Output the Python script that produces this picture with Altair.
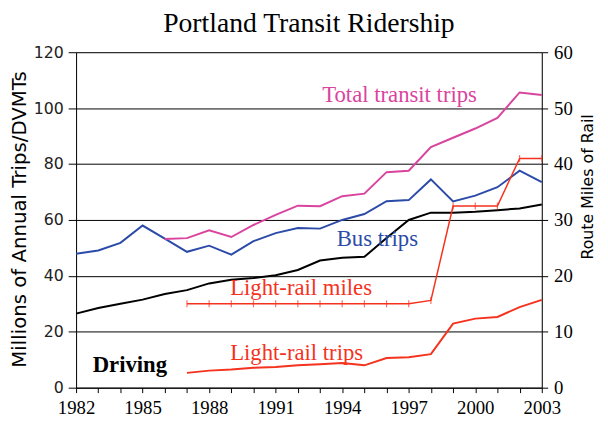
import altair as alt
import pandas as pd

years = list(range(1982, 2004))
bus = [47.9, 49.1, 51.8, 58.0, 53.3, 48.6, 50.8, 47.6, 52.4, 55.3, 57.1,
       56.9, 60.0, 62.1, 66.7, 67.1, 74.5, 66.6, 68.7, 71.7, 77.6, 73.5]
driving = [26.5, 28.5, 30.0, 31.5, 33.5, 34.9, 37.3, 38.6, 39.2, 40.2, 42.1,
           45.5, 46.5, 46.8, 53.5, 60.0, 62.6, 62.6, 62.9, 63.5, 64.1, 65.5]
total_years = list(range(1986, 2004))
total = [53.2, 53.5, 56.3, 53.9, 58.2, 61.8, 65.1, 64.9, 68.5, 69.4, 77.1,
         77.6, 86.1, 89.4, 92.7, 96.5, 105.6, 104.7]
lr_years = list(range(1987, 2004))
lr_trips = [5.3, 6.1, 6.5, 7.1, 7.4, 8.0, 8.4, 8.8, 8.0, 10.6, 10.9, 12.0,
            22.9, 24.7, 25.3, 28.8, 31.4]
lr_miles = [15, 15, 15, 15, 15, 15, 15, 15, 15, 15, 15, 15.6,
            32.5, 32.5, 32.5, 41, 41]

series_names = ["Total transit trips", "Bus trips", "Driving", "Light-rail trips"]
series_colors = ["#D9449E", "#2C4BA8", "#000000", "#F5321E"]

label_texts = ["Total transit trips", "Bus trips", "Light-rail miles", "Light-rail trips", "Driving"]
label_years = [1993.1, 1993.75, 1988.95, 1988.95, 1982.75]
label_values = [104.8, 53.2, 35.6, 12.4, 8.2]
label_colors = ["#D9449E", "#2C4BA8", "#F5321E", "#F5321E", "#000000"]
label_weights = ["normal", "normal", "normal", "normal", "bold"]

rows = []
for y, v in zip(years, bus):
    rows.append({"year": y, "value": v, "series": "Bus trips"})
for y, v in zip(years, driving):
    rows.append({"year": y, "value": v, "series": "Driving"})
for y, v in zip(total_years, total):
    rows.append({"year": y, "value": v, "series": "Total transit trips"})
for y, v in zip(lr_years, lr_trips):
    rows.append({"year": y, "value": v, "series": "Light-rail trips"})
df = pd.DataFrame(rows)

miles_df = pd.DataFrame({"year": lr_years, "miles": lr_miles})
labels_df = pd.DataFrame({"year": label_years, "value": label_values,
                          "label": label_texts, "color": label_colors,
                          "weight": label_weights})

SERIF = "Liberation Serif"
SANS = "DejaVu Sans"

x_enc = alt.X("year:Q",
              scale=alt.Scale(domain=[1982, 2003], nice=False, zero=False),
              axis=alt.Axis(values=years,
                            labelExpr="(datum.value - 1982) % 3 == 0 ? datum.value : ''",
                            title=None, grid=False, tickSize=5, labelPadding=6,
                            labelFont=SERIF, labelFontSize=19, labelColor="black",
                            domainColor="black", tickColor="black",
                            labelOverlap=False, labelFlush=False, labelBound=False))

y_left = alt.Y("value:Q",
               scale=alt.Scale(domain=[0, 120], nice=False),
               axis=alt.Axis(values=[0, 20, 40, 60, 80, 100, 120],
                             title="Millions of Annual Trips/DVMTs",
                             titleFont=SANS, titleFontSize=20, titleFontWeight="normal",
                             titleColor="black", titleAngle=270, titleAlign="center",
                             titleBaseline="middle", titleX=-57, titleY=169,
                             labelFont=SANS, labelFontSize=16, labelColor="#222222",
                             tickSize=8, labelPadding=5, grid=True,
                             gridColor="black", gridWidth=1, gridOpacity=1,
                             domainColor="black", tickColor="black",
                             labelOverlap=False))

lines = alt.Chart(df).mark_line(strokeWidth=2).encode(
    x=x_enc,
    y=y_left,
    color=alt.Color("series:N", scale=alt.Scale(domain=series_names, range=series_colors),
                    legend=None),
    detail="series:N",
)

driving_text = alt.Chart(labels_df[labels_df["weight"] == "bold"]).mark_text(
    align="left", baseline="middle", font=SERIF, fontSize=23, fontWeight="bold").encode(
    x=x_enc, y=y_left, text="label:N", color=alt.value("black"))
texts = alt.Chart(labels_df[labels_df["weight"] == "normal"]).mark_text(
    align="left", baseline="middle", font=SERIF, fontSize=23).encode(
    x=x_enc, y=y_left, text="label:N", color=alt.Color("color:N", scale=None))

left = alt.layer(lines, texts, driving_text)

y_right = alt.Y("miles:Q",
                scale=alt.Scale(domain=[0, 60], nice=False),
                axis=alt.Axis(orient="right", values=[0, 10, 20, 30, 40, 50, 60],
                              title="Route Miles of Rail",
                              titleFont=SANS, titleFontSize=16, titleFontWeight="normal",
                              titleColor="black", titleAngle=270, titleAlign="center",
                              titleBaseline="middle", titleX=46, titleY=136,
                              labelFont=SERIF, labelFontSize=19, labelColor="black",
                              tickSize=6, labelPadding=6, grid=False,
                              domainColor="black", tickColor="black",
                              labelOverlap=False))

miles_line = alt.Chart(miles_df).mark_line(strokeWidth=1.5, color="#F5321E").encode(
    x=x_enc, y=y_right)
miles_ticks = alt.Chart(miles_df).mark_tick(orient="vertical", size=7, thickness=1.2,
                                             color="#F5321E").encode(
    x=x_enc, y=y_right)
right = alt.layer(miles_line, miles_ticks)

chart = alt.layer(left, right).resolve_scale(y="independent").properties(
    width=472, height=340,
    title=alt.TitleParams("Portland Transit Ridership", font=SERIF, fontSize=28,
                          fontWeight="normal", color="black", anchor="middle",
                          baseline="alphabetic", offset=12, dy=29),
    autosize=alt.AutoSizeParams(type="none"),
    padding={"left": 69, "top": 42, "right": 59, "bottom": 34},
).configure_view(stroke=None).configure(background="white").configure_axis(
    labelOverlap=False)

chart.save("out.html", embed_options={"renderer": "svg", "actions": False})
